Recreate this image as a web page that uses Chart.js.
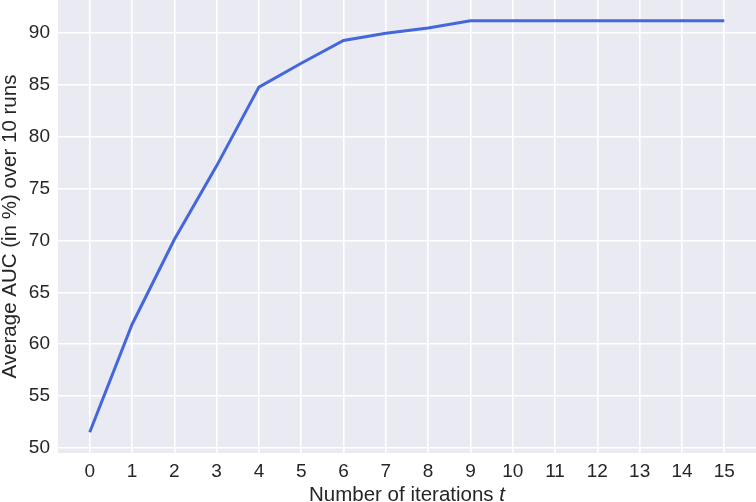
<!DOCTYPE html>
<html>
<head>
<meta charset="utf-8">
<script src="https://cdn.jsdelivr.net/npm/chart.js@4/dist/chart.umd.min.js"></script>
<style>
html,body{margin:0;padding:0;background:#fff;}
#wrap{width:756px;height:502px;position:relative;}
</style>
</head>
<body>
<div id="wrap"><canvas id="c" width="756" height="502"></canvas></div>
<script>
const iterations = [0,1,2,3,4,5,6,7,8,9,10,11,12,13,14,15];
const aucValues = [51.5,61.9,70.1,77.2,84.8,87.1,89.3,90.0,90.5,91.2,91.2,91.2,91.2,91.2,91.2,91.2];
const xTicks = [0,1,2,3,4,5,6,7,8,9,10,11,12,13,14,15];
const yTicks = [50,55,60,65,70,75,80,85,90];
const xTitleMain = "Number of iterations ";
const xTitleVar = "t";
const yTitle = "Average AUC (in %) over 10 runs";

const FONT = "'Liberation Sans', Arial, sans-serif";
const TXT = '#262626';
const TICK_SIZE = 19;
const LABEL_SIZE = 20.5;

const bgPlugin = {
  id: 'bg',
  beforeDraw(chart) {
    const {ctx, chartArea: a} = chart;
    ctx.save();
    ctx.fillStyle = '#EAEAF2';
    ctx.fillRect(a.left, a.top, a.right - a.left, a.bottom - a.top);
    ctx.restore();
  }
};
const xTitlePlugin = {
  id: 'xtitle',
  afterDraw(chart) {
    const {ctx, chartArea: a} = chart;
    ctx.save();
    ctx.fillStyle = TXT;
    ctx.textBaseline = 'alphabetic';
    ctx.font = LABEL_SIZE + "px " + FONT;
    const w1 = ctx.measureText(xTitleMain).width;
    ctx.font = "italic " + LABEL_SIZE + "px " + FONT;
    const w2 = ctx.measureText(xTitleVar).width;
    const cx = (a.left + a.right) / 2;
    let x0 = cx - (w1 + w2) / 2;
    ctx.font = LABEL_SIZE + "px " + FONT;
    ctx.fillText(xTitleMain, x0, 501);
    ctx.font = "italic " + LABEL_SIZE + "px " + FONT;
    ctx.fillText(xTitleVar, x0 + w1, 501);
    ctx.restore();
  }
};

new Chart(document.getElementById('c'), {
  type: 'line',
  data: {
    datasets: [{
      data: iterations.map((t, i) => ({x: t, y: aucValues[i]})),
      borderColor: '#4468DB',
      borderWidth: 3,
      pointRadius: 0,
      tension: 0,
      fill: false
    }]
  },
  options: {
    responsive: false,
    animation: false,
    devicePixelRatio: 1,
    layout: {padding: 0},
    plugins: {legend: {display: false}, tooltip: {enabled: false}},
    scales: {
      x: {
        type: 'linear',
        min: -0.75, max: 15.75,
        afterBuildTicks(s) { s.ticks = xTicks.map(v => ({value: v})); },
        afterFit(s) { s.height = 49; s.paddingLeft = 0; s.paddingRight = 0; },
        grid: {color: '#ffffff', lineWidth: 1.6, drawTicks: false},
        border: {display: false},
        ticks: {color: TXT, font: {family: FONT, size: TICK_SIZE}, padding: 7, maxRotation: 0, autoSkip: false,
                callback: v => String(v)},
        title: {display: false}
      },
      y: {
        type: 'linear',
        min: 49.5, max: 93.2,
        afterBuildTicks(s) { s.ticks = yTicks.map(v => ({value: v})); },
        afterFit(s) { s.width = 58; s.paddingTop = 0; s.paddingBottom = 0; },
        grid: {color: '#ffffff', lineWidth: 1.6, drawTicks: false},
        border: {display: false},
        ticks: {color: TXT, font: {family: FONT, size: TICK_SIZE}, padding: 8, callback: v => String(v)},
        title: {display: true, text: yTitle, color: TXT, font: {family: FONT, size: LABEL_SIZE, lineHeight: 1.0}, padding: {top: 0, bottom: 0}}
      }
    }
  },
  plugins: [bgPlugin, xTitlePlugin]
});
</script>
</body>
</html>
